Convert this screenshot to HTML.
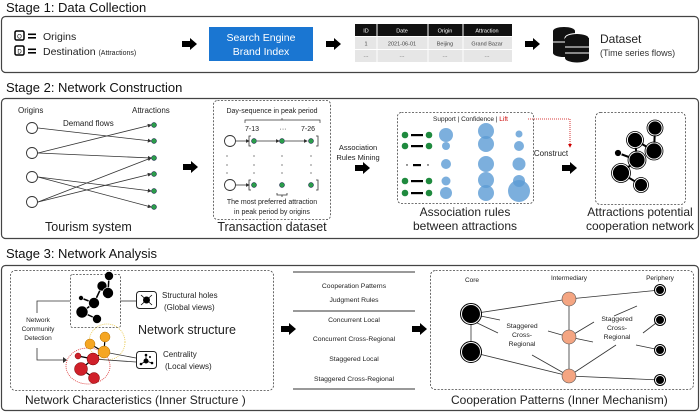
<!DOCTYPE html>
<html><head><meta charset="utf-8"><style>
html,body{margin:0;padding:0;background:#fff;}
svg{display:block;font-family:"Liberation Sans",sans-serif;}
</style></head><body>
<svg width="700" height="412" viewBox="0 0 700 412" xmlns="http://www.w3.org/2000/svg">
<defs>
<marker id="ah" markerWidth="5" markerHeight="5" refX="4" refY="2.5" orient="auto"><path d="M0,0 L5,2.5 L0,5z" fill="#333"/></marker>
<marker id="rah" markerWidth="5" markerHeight="5" refX="4" refY="2.5" orient="auto"><path d="M0,0 L5,2.5 L0,5z" fill="#c00"/></marker>
<g id="bar"><path d="M0,-3 h8 v-3 l7,6 l-7,6 v-3 h-8z" fill="#000"/></g>
</defs>

<!-- STAGE 1 -->
<text x="6" y="12" font-size="13" fill="#111">Stage 1: Data Collection</text>
<rect x="1.5" y="16.5" width="697" height="56" rx="4" fill="none" stroke="#444" stroke-width="1.2"/>
<rect x="15" y="31" width="9" height="9" rx="1.5" fill="none" stroke="#000" stroke-width="1.5"/>
<text x="19.5" y="38.5" font-size="6" text-anchor="middle">O</text>
<rect x="28" y="33.5" width="8" height="1.6" fill="#000"/><rect x="28" y="37" width="8" height="1.6" fill="#000"/>
<text x="43" y="40" font-size="10.5" fill="#222">Origins</text>
<rect x="15" y="46" width="9" height="9" rx="1.5" fill="none" stroke="#000" stroke-width="1.5"/>
<text x="19.5" y="53.5" font-size="6" text-anchor="middle">D</text>
<rect x="28" y="48.5" width="8" height="1.6" fill="#000"/><rect x="28" y="52" width="8" height="1.6" fill="#000"/>
<text x="43" y="55" font-size="10.5" fill="#222">Destination <tspan font-size="7">(Attractions)</tspan></text>
<use href="#bar" x="182" y="44"/>
<rect x="209" y="27" width="104" height="34" fill="#1a76d2"/>
<text x="261" y="41" font-size="10.5" fill="#fff" text-anchor="middle">Search Engine</text>
<text x="261" y="55" font-size="10.5" fill="#fff" text-anchor="middle">Brand Index</text>
<use href="#bar" x="326" y="44"/>
<rect x="355" y="24" width="157" height="12" fill="#111"/>
<rect x="355" y="37" width="157" height="25" fill="#e6e6e6"/>
<g stroke="#fff" stroke-width="1"><line x1="377" y1="24" x2="377" y2="62"/><line x1="428" y1="24" x2="428" y2="62"/><line x1="463" y1="24" x2="463" y2="62"/><line x1="355" y1="49.5" x2="512" y2="49.5"/></g>
<g font-size="5.5" text-anchor="middle" fill="#fff"><text x="366" y="32.5">ID</text><text x="402" y="32.5">Date</text><text x="445" y="32.5">Origin</text><text x="487" y="32.5">Attraction</text></g>
<g font-size="5.5" text-anchor="middle" fill="#444"><text x="366" y="45.5">1</text><text x="402" y="45.5">2021-06-01</text><text x="445" y="45.5">Beijing</text><text x="487" y="45.5">Grand Bazar</text>
<text x="366" y="58">···</text><text x="402" y="58">···</text><text x="445" y="58">···</text><text x="487" y="58">···</text></g>
<use href="#bar" x="525" y="44"/>
<g fill="#111"><ellipse cx="564" cy="31" rx="11" ry="4"/><rect x="553" y="31" width="22" height="22"/><ellipse cx="564" cy="53" rx="11" ry="4"/>
<ellipse cx="577" cy="38" rx="12" ry="4.5" stroke="#fff"/><rect x="565" y="38" width="24" height="20"/><ellipse cx="577" cy="58" rx="12" ry="4.5"/></g>
<g stroke="#fff" stroke-width="1"><line x1="553" y1="42" x2="565" y2="42"/><line x1="565" y1="47" x2="589" y2="47"/><line x1="565" y1="53" x2="589" y2="53"/></g>
<text x="600" y="43" font-size="12" fill="#222">Dataset</text>
<text x="600" y="56" font-size="9" fill="#333">(Time series flows)</text>

<!-- STAGE 2 -->
<text x="6" y="92" font-size="13" fill="#111">Stage 2: Network Construction</text>
<rect x="1.5" y="98.5" width="697" height="140" rx="4" fill="none" stroke="#444" stroke-width="1.2"/>
<text x="18" y="113" font-size="8" fill="#222">Origins</text>
<text x="132" y="113" font-size="8" fill="#222">Attractions</text>
<text x="63" y="126" font-size="8" fill="#222">Demand flows</text>
<g stroke="#333" stroke-width="0.8" fill="none" marker-end="url(#ah)">
<line x1="38" y1="128" x2="151" y2="141"/>
<line x1="38" y1="153" x2="151" y2="125"/>
<line x1="38" y1="153" x2="151" y2="158"/>
<line x1="38" y1="177" x2="151" y2="191"/>
<line x1="38" y1="177" x2="151" y2="207"/>
<line x1="38" y1="202" x2="151" y2="158"/>
<line x1="38" y1="202" x2="151" y2="174"/>
</g>
<g fill="#fff" stroke="#333" stroke-width="0.9"><circle cx="32" cy="128" r="5.5"/><circle cx="32" cy="153" r="5.5"/><circle cx="32" cy="177" r="5.5"/><circle cx="32" cy="202" r="5.5"/></g>
<g fill="#2a9d4a" stroke="#114" stroke-width="0.5"><circle cx="154" cy="125" r="2.5"/><circle cx="154" cy="141" r="2.5"/><circle cx="154" cy="158" r="2.5"/><circle cx="154" cy="174" r="2.5"/><circle cx="154" cy="191" r="2.5"/><circle cx="154" cy="207" r="2.5"/></g>
<text x="45" y="231" font-size="12.5" fill="#222">Tourism system</text>
<use href="#bar" x="183" y="167"/>

<rect x="213.5" y="100.5" width="117" height="119" rx="4" fill="none" stroke="#444" stroke-width="0.8" stroke-dasharray="2,1.5"/>
<text x="272" y="113" font-size="7" text-anchor="middle" fill="#222">Day-sequence in peak period</text>
<path d="M245,123 v-3 h75 v3 M282,120 v-2" fill="none" stroke="#333" stroke-width="0.7"/>
<g font-size="7" fill="#222" text-anchor="middle"><text x="252" y="131">7-13</text><text x="283" y="131">···</text><text x="308" y="131">7-26</text></g>
<g stroke="#333" stroke-width="0.8" fill="none"><line x1="236" y1="141" x2="249" y2="141" marker-end="url(#ah)"/><line x1="257" y1="141" x2="279" y2="141" marker-end="url(#ah)"/><line x1="285" y1="141" x2="307" y2="141" marker-end="url(#ah)"/>
<line x1="236" y1="185" x2="249" y2="185" marker-end="url(#ah)"/>
<path d="M251,136 h-2 v10 h2 M316,136 h2 v10 h-2 M251,180 h-2 v10 h2 M316,180 h2 v10 h-2 M277,193 v2 h10 v-2 M282,195 v2"/></g>
<g fill="#fff" stroke="#333" stroke-width="0.9"><circle cx="230" cy="141" r="5.5"/><circle cx="230" cy="185" r="5.5"/></g>
<g fill="#2a9d4a" stroke="#114" stroke-width="0.5"><circle cx="254" cy="141" r="2.5"/><circle cx="282" cy="141" r="2.5"/><circle cx="311" cy="141" r="2.5"/><circle cx="254" cy="185" r="2.5"/><circle cx="282" cy="185" r="2.5"/><circle cx="311" cy="185" r="2.5"/></g>
<g fill="#333"><circle cx="227" cy="156" r="0.6"/><circle cx="227" cy="165" r="0.6"/><circle cx="227" cy="173" r="0.6"/><circle cx="254" cy="156" r="0.6"/><circle cx="254" cy="165" r="0.6"/><circle cx="254" cy="173" r="0.6"/><circle cx="282" cy="156" r="0.6"/><circle cx="282" cy="165" r="0.6"/><circle cx="282" cy="173" r="0.6"/><circle cx="311" cy="156" r="0.6"/><circle cx="311" cy="165" r="0.6"/><circle cx="311" cy="173" r="0.6"/></g>
<text x="272" y="204" font-size="7" text-anchor="middle" fill="#222">The most preferred attraction</text>
<text x="272" y="214" font-size="7" text-anchor="middle" fill="#222">in peak period by origins</text>
<text x="272" y="231" font-size="12.5" text-anchor="middle" fill="#222">Transaction dataset</text>

<text x="358" y="150" font-size="7.5" text-anchor="middle" fill="#222">Association</text>
<text x="358" y="160" font-size="7.5" text-anchor="middle" fill="#222">Rules Mining</text>
<use href="#bar" x="355" y="168"/>

<rect x="397.5" y="112.5" width="136" height="91" rx="4" fill="none" stroke="#444" stroke-width="0.8" stroke-dasharray="2,1.5"/>
<text x="433" y="121" font-size="6.5" fill="#222">Support | Confidence | <tspan fill="#c00">Lift</tspan></text>
<g fill="#1f8a3e"><circle cx="405" cy="135" r="3.3"/><circle cx="429" cy="135" r="3.3"/><circle cx="405" cy="146" r="3.3"/><circle cx="429" cy="146" r="3.3"/><circle cx="405" cy="181" r="3.3"/><circle cx="429" cy="181" r="3.3"/><circle cx="405" cy="193" r="3.3"/><circle cx="429" cy="193" r="3.3"/></g>
<g fill="#000"><rect x="411" y="134" width="12" height="2.2"/><rect x="411" y="145" width="12" height="2.2"/><rect x="413" y="164" width="8" height="2.2"/><rect x="411" y="180" width="12" height="2.2"/><rect x="411" y="192" width="12" height="2.2"/><circle cx="407" cy="165" r="0.7"/><circle cx="428" cy="165" r="0.7"/></g>
<g fill="#5b9bd5" fill-opacity="0.8"><circle cx="446" cy="135" r="7"/><circle cx="446" cy="146" r="4"/><circle cx="446" cy="164" r="5"/><circle cx="446" cy="181" r="4.5"/><circle cx="446" cy="193" r="6"/>
<circle cx="486" cy="131" r="8"/><circle cx="486" cy="144" r="8"/><circle cx="486" cy="164" r="8"/><circle cx="486" cy="180" r="8"/><circle cx="486" cy="193" r="8"/>
<circle cx="519" cy="134" r="3.5"/><circle cx="519" cy="146" r="5"/><circle cx="519" cy="164" r="6.5"/><circle cx="519" cy="181" r="6"/><circle cx="519" cy="191" r="11"/></g>
<path d="M528,119 H570 V147" fill="none" stroke="#c00" stroke-width="0.8" stroke-dasharray="1,1" marker-end="url(#rah)"/>
<text x="551" y="156" font-size="8" text-anchor="middle" fill="#222">Construct</text>
<use href="#bar" x="562" y="168"/>
<text x="465" y="216" font-size="12" text-anchor="middle" fill="#222">Association rules</text>
<text x="465" y="230" font-size="12" text-anchor="middle" fill="#222">between attractions</text>

<rect x="595.5" y="112.5" width="90" height="92" rx="5" fill="none" stroke="#444" stroke-width="0.8" stroke-dasharray="2,1.5"/>
<g stroke="#000" stroke-width="2"><line x1="655" y1="128" x2="654" y2="151"/><line x1="635" y1="140" x2="654" y2="151"/><line x1="635" y1="140" x2="637" y2="160"/><line x1="618" y1="153" x2="637" y2="160"/><line x1="637" y1="160" x2="621" y2="173"/><line x1="621" y1="173" x2="641" y2="185"/></g>
<g fill="#000" stroke="#fff" stroke-width="0.8"><circle cx="655" cy="128" r="7"/><circle cx="635" cy="140" r="7.5"/><circle cx="654" cy="151" r="8"/><circle cx="618" cy="153" r="3.5"/><circle cx="637" cy="160" r="8"/><circle cx="621" cy="173" r="8.5"/><circle cx="641" cy="185" r="6.5"/></g>
<g fill="none" stroke="#000" stroke-width="0.8"><circle cx="655" cy="128" r="8"/><circle cx="635" cy="140" r="8.5"/><circle cx="654" cy="151" r="9"/><circle cx="637" cy="160" r="9"/><circle cx="621" cy="173" r="9.5"/><circle cx="641" cy="185" r="7.5"/></g>
<text x="640" y="216" font-size="12" text-anchor="middle" fill="#222">Attractions potential</text>
<text x="640" y="230" font-size="12" text-anchor="middle" fill="#222">cooperation network</text>

<!-- STAGE 3 -->
<text x="6" y="258" font-size="13" fill="#111">Stage 3: Network Analysis</text>
<rect x="1.5" y="265.5" width="697" height="145" rx="4" fill="none" stroke="#444" stroke-width="1.2"/>
<rect x="10.5" y="270.5" width="263" height="120" rx="5" fill="none" stroke="#444" stroke-width="0.8" stroke-dasharray="2,1.5"/>
<rect x="70.5" y="274.5" width="50" height="53" rx="2" fill="none" stroke="#444" stroke-width="0.8" stroke-dasharray="2,1.5"/>
<g stroke="#000" stroke-width="1.5"><line x1="109" y1="276" x2="108" y2="293"/><line x1="102" y1="286" x2="108" y2="293"/><line x1="102" y1="286" x2="94" y2="303"/><line x1="81" y1="298" x2="94" y2="303"/><line x1="94" y1="303" x2="82" y2="312"/><line x1="82" y1="312" x2="97" y2="319"/></g>
<g fill="#000" stroke="#fff" stroke-width="0.6"><circle cx="109" cy="276" r="4.5"/><circle cx="102" cy="286" r="5"/><circle cx="108" cy="293" r="5.5"/><circle cx="81" cy="298" r="2.5"/><circle cx="94" cy="303" r="5.5"/><circle cx="82" cy="312" r="6"/><circle cx="97" cy="319" r="4.5"/></g>
<path d="M70,301 H37 V313 M37,348 V360 H63" fill="none" stroke="#333" stroke-width="0.8"/>
<path d="M63,357 l4,3 l-4,3z" fill="#333"/>
<text x="38" y="322" font-size="6.5" text-anchor="middle" fill="#222">Network</text>
<text x="38" y="331" font-size="6.5" text-anchor="middle" fill="#222">Community</text>
<text x="38" y="340" font-size="6.5" text-anchor="middle" fill="#222">Detection</text>
<line x1="120" y1="301" x2="136" y2="301" stroke="#333" stroke-width="0.8"/>
<rect x="136.5" y="291.5" width="20" height="17" rx="3" fill="#fff" stroke="#222" stroke-width="1"/>
<circle cx="146.5" cy="300" r="3.5" fill="#000"/><g stroke="#000" stroke-width="0.8"><line x1="141" y1="295" x2="152" y2="305"/><line x1="152" y1="295" x2="141" y2="305"/></g>
<text x="162" y="298" font-size="8" fill="#222">Structural holes</text>
<text x="164" y="310" font-size="8" fill="#222">(Global views)</text>
<text x="138" y="334" font-size="12.5" fill="#222">Network structure</text>
<circle cx="107" cy="342" r="18" fill="none" stroke="#e8c84a" stroke-width="0.8" stroke-dasharray="1,1"/>
<ellipse cx="88" cy="366" rx="22" ry="18" fill="none" stroke="#d33" stroke-width="0.8" stroke-dasharray="1,1"/>
<g stroke="#333" stroke-width="0.8"><line x1="104" y1="352" x2="136" y2="358"/><line x1="93" y1="359" x2="136" y2="362"/></g>
<g stroke="#000" stroke-width="1.2"><line x1="105" y1="338" x2="104" y2="352"/><line x1="90" y1="344" x2="104" y2="352"/><line x1="104" y1="352" x2="93" y2="359"/><line x1="78" y1="356" x2="93" y2="359"/><line x1="93" y1="359" x2="81" y2="369"/><line x1="81" y1="369" x2="94" y2="378"/></g>
<g fill="#f5a623" stroke="#b57000" stroke-width="0.5"><circle cx="105" cy="337" r="5"/><circle cx="90" cy="344" r="5"/><circle cx="104" cy="352" r="6"/></g>
<g fill="#d0202a" stroke="#7a0000" stroke-width="0.5"><circle cx="78" cy="356" r="3"/><circle cx="93" cy="359" r="6"/><circle cx="81" cy="369" r="6.5"/><circle cx="94" cy="378" r="5.5"/></g>
<rect x="136.5" y="351.5" width="20" height="17" rx="3" fill="#fff" stroke="#222" stroke-width="1"/>
<g stroke="#000" stroke-width="0.8"><line x1="146" y1="361" x2="146" y2="355"/><line x1="146" y1="361" x2="141" y2="364"/><line x1="146" y1="361" x2="152" y2="363"/></g>
<g fill="#000"><circle cx="146" cy="361" r="2.5"/><circle cx="146" cy="355" r="1.3"/><circle cx="141" cy="364" r="1.3"/><circle cx="152" cy="363" r="1.3"/><circle cx="150" cy="357" r="1"/></g>
<text x="163" y="357" font-size="8" fill="#222">Centrality</text>
<text x="165" y="369" font-size="8" fill="#222">(Local views)</text>
<text x="25" y="404" font-size="12" fill="#222">Network Characteristics (Inner Structure )</text>

<use href="#bar" x="281" y="329"/>
<g stroke="#333" stroke-width="0.9"><line x1="293" y1="272" x2="415" y2="272"/><line x1="293" y1="311" x2="415" y2="311"/><line x1="293" y1="389" x2="415" y2="389"/></g>
<g font-size="6.8" text-anchor="middle" fill="#222"><text x="354" y="288">Cooperation Patterns</text><text x="354" y="302">Judgment Rules</text><text x="354" y="322">Concurrent Local</text><text x="354" y="341">Concurrent Cross-Regional</text><text x="354" y="361">Staggered Local</text><text x="354" y="381">Staggered Cross-Regional</text></g>
<use href="#bar" x="412" y="329"/>

<rect x="430.5" y="270.5" width="263" height="119" rx="5" fill="none" stroke="#444" stroke-width="0.8" stroke-dasharray="2,1.5"/>
<g font-size="6.5" text-anchor="middle" fill="#222"><text x="472" y="282">Core</text><text x="569" y="280">Intermediary</text><text x="660" y="280">Periphery</text></g>
<g stroke="#333" stroke-width="0.8">
<line x1="471" y1="314" x2="569" y2="299"/><line x1="471" y1="314" x2="471" y2="352"/><line x1="471" y1="352" x2="569" y2="376"/>
<line x1="569" y1="299" x2="569" y2="376"/><line x1="569" y1="299" x2="660" y2="290"/><line x1="569" y1="376" x2="660" y2="380"/>
<line x1="471" y1="314" x2="500" y2="320"/><line x1="471" y1="320" x2="498" y2="333"/>
<line x1="548" y1="331" x2="569" y2="337"/><line x1="569" y1="337" x2="593" y2="342"/>
<line x1="532" y1="355" x2="569" y2="376"/><line x1="569" y1="376" x2="616" y2="345"/>
<line x1="569" y1="337" x2="594" y2="322"/><line x1="614" y1="316" x2="637" y2="306"/>
<line x1="643" y1="333" x2="660" y2="320"/><line x1="636" y1="345" x2="660" y2="350"/>
</g>
<g font-size="6.8" text-anchor="middle" fill="#222"><text x="522" y="328">Staggered</text><text x="522" y="337">Cross-</text><text x="522" y="346">Regional</text>
<text x="617" y="321">Staggered</text><text x="617" y="330">Cross-</text><text x="617" y="339">Regional</text></g>
<g fill="#000" stroke="#fff" stroke-width="1"><circle cx="471" cy="314" r="9.5"/><circle cx="471" cy="352" r="9.5"/><circle cx="660" cy="290" r="4.5"/><circle cx="660" cy="320" r="4.5"/><circle cx="660" cy="350" r="4.5"/><circle cx="660" cy="380" r="4.5"/></g>
<g fill="none" stroke="#000" stroke-width="1"><circle cx="471" cy="314" r="10.5"/><circle cx="471" cy="352" r="10.5"/><circle cx="660" cy="290" r="5.5"/><circle cx="660" cy="320" r="5.5"/><circle cx="660" cy="350" r="5.5"/><circle cx="660" cy="380" r="5.5"/></g>
<g fill="#f4a582" stroke="#555" stroke-width="0.6"><circle cx="569" cy="299" r="7"/><circle cx="569" cy="337" r="7"/><circle cx="569" cy="376" r="7"/></g>
<text x="451" y="404" font-size="12" fill="#222">Cooperation Patterns (Inner Mechanism)</text>
</svg>
</body></html>
